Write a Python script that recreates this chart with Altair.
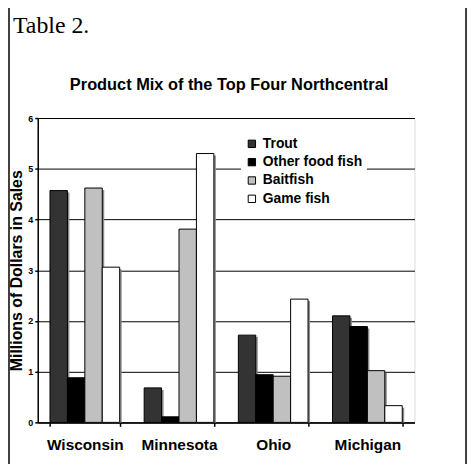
import altair as alt
import pandas as pd

states = ["Wisconsin", "Minnesota", "Ohio", "Michigan"]
products = ["Trout", "Other food fish", "Baitfish", "Game fish"]
trout = [4.57, 0.68, 1.72, 2.10]
other_food = [0.88, 0.11, 0.94, 1.89]
baitfish = [4.62, 3.81, 0.91, 1.02]
game_fish = [3.06, 5.30, 2.43, 0.33]
colors = ["#333333", "#000000", "#c0c0c0", "#ffffff"]
y_ticks = [0, 1, 2, 3, 4, 5, 6]

series = [trout, other_food, baitfish, game_fish]
rows = []
for p, vals in zip(products, series):
    for s, v in zip(states, vals):
        rows.append({"State": s, "Product": p, "Value": v})
df = pd.DataFrame(rows)

FONT = "Liberation Sans"
W, H = 380, 307

x_enc = alt.X("State:N", sort=states,
              scale=alt.Scale(paddingInner=0.26, paddingOuter=0.13),
              axis=alt.Axis(title=None, labelAngle=0, labelFont=FONT, labelFontSize=15.5,
                            labelFontWeight="bold", labelColor="black", labelPadding=11,
                            tickBand="extent", tickSize=4, tickColor="black", tickWidth=1.5,
                            domainColor="black", domainWidth=1.5))

# shadow layer: same bars, shifted 2px right and down
shadow = alt.Chart(df).mark_bar(color="#8a8a8a", clip=True).encode(
    x=x_enc,
    xOffset=alt.XOffset("Product:N", sort=products,
                        scale=alt.Scale(paddingInner=0, paddingOuter=0, range=[2, 72.3])),
    y=alt.Y("Value:Q", scale=alt.Scale(domain=[0, 6], nice=False, range=[H + 2, 2]), axis=None),
)

bars = alt.Chart(df).mark_bar(stroke="black", strokeWidth=1).encode(
    x=x_enc,
    xOffset=alt.XOffset("Product:N", sort=products, scale=alt.Scale(paddingInner=0, paddingOuter=0)),
    y=alt.Y("Value:Q", scale=alt.Scale(domain=[0, 6], nice=False),
            axis=alt.Axis(title="Millions of Dollars in Sales", values=y_ticks,
                          titleFont=FONT, titleFontSize=16, titleFontWeight="bold",
                          titleColor="black", titlePadding=3,
                          labelFont=FONT, labelFontSize=9, labelFontWeight="bold",
                          labelColor="black", labelPadding=2,
                          tickSize=3, tickColor="black", tickWidth=1.5,
                          domainColor="black", domainWidth=1.5,
                          grid=True, gridColor="black", gridWidth=1)),
    color=alt.Color("Product:N", sort=products,
                    scale=alt.Scale(domain=products, range=colors),
                    legend=alt.Legend(title=None, orient="none", legendX=205, legendY=15,
                                      symbolType="square", symbolSize=55,
                                      symbolStrokeColor="black", symbolStrokeWidth=1,
                                      labelFont=FONT, labelFontSize=14, labelFontWeight="bold",
                                      labelColor="black", labelOffset=4, rowPadding=4.5,
                                      fillColor="white", padding=4)),
)

one = alt.Data(values=[{"a": 1}])

table_title = alt.Chart(one).mark_text(
    text="Table 2.", font="Liberation Serif", fontSize=24, align="left",
    baseline="alphabetic", color="black"
).encode(x=alt.value(-25), y=alt.value(-86))

chart_title = alt.Chart(one).mark_text(
    text="Product Mix of the Top Four Northcentral", font=FONT, fontSize=16.5,
    fontWeight="bold", align="center", baseline="alphabetic", color="black"
).encode(x=alt.value(193), y=alt.value(-28))

frame_left = alt.Chart(one).mark_rule(color="black", strokeWidth=1.5).encode(
    x=alt.value(-29), y=alt.value(-117), y2=alt.value(349))
frame_right = alt.Chart(one).mark_rule(color="black", strokeWidth=1.5).encode(
    x=alt.value(432), y=alt.value(-117), y2=alt.value(349))

chart = alt.layer(shadow, bars, table_title, chart_title, frame_left, frame_right).resolve_scale(
    y="independent", xOffset="independent"
).properties(
    width=W, height=H,
    autosize=alt.AutoSizeParams(type="none"),
    padding={"left": 30, "top": 109, "right": 54, "bottom": 42},
).configure_view(stroke=None).configure(background="white")

chart.save("out.html", embed_options={"renderer": "svg", "actions": False})
